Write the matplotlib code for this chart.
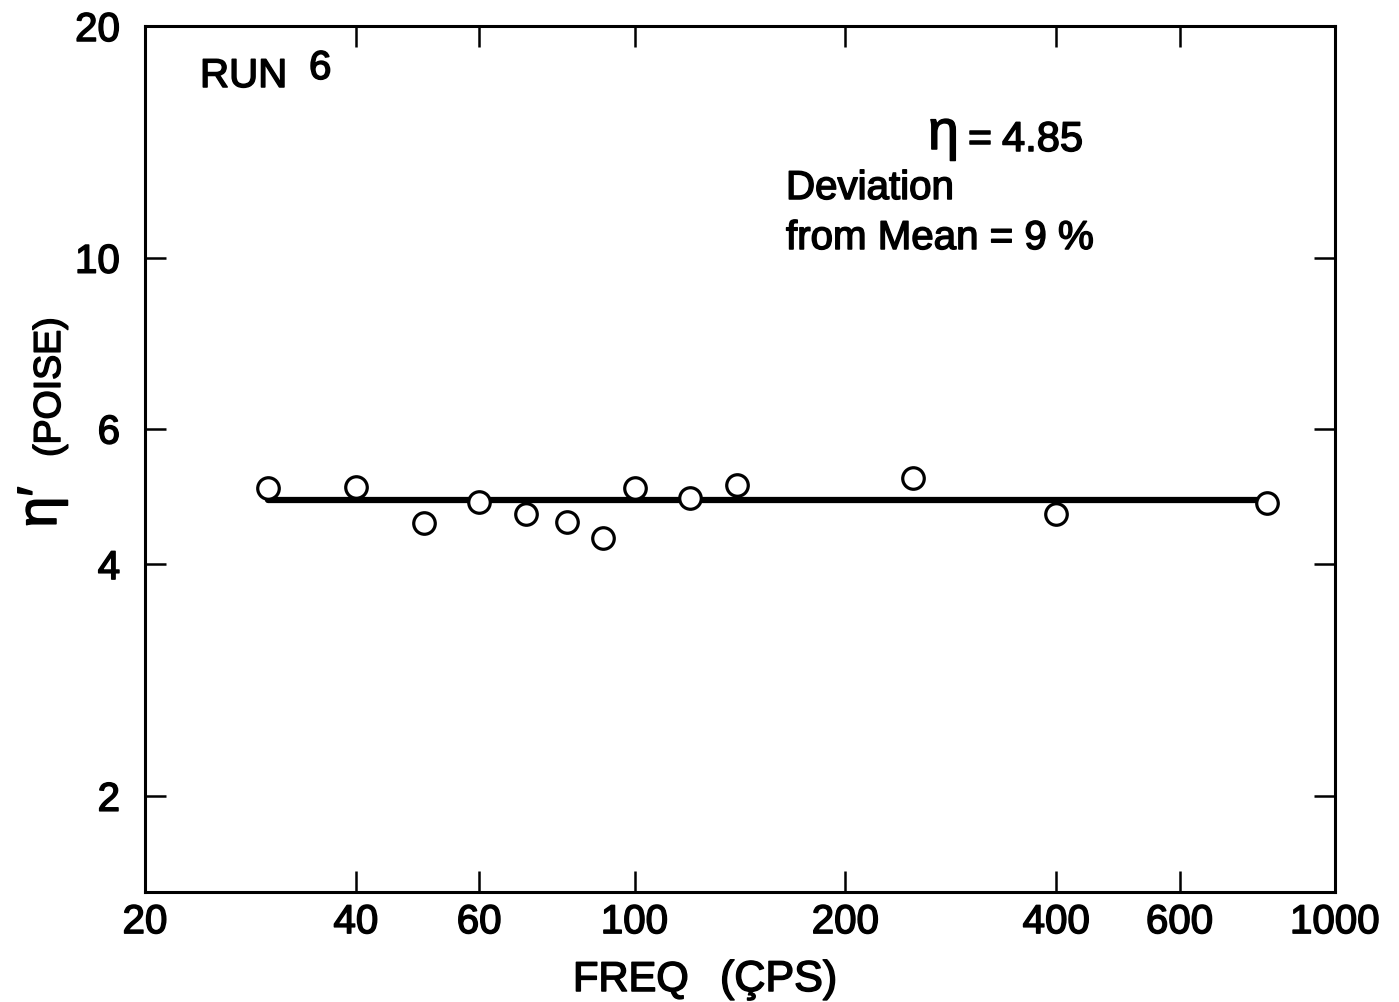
import numpy as np
import matplotlib
matplotlib.use("Agg")
import matplotlib.pyplot as plt
import matplotlib.patheffects as pe

# run 6: dynamic viscosity vs frequency
freq = [30, 40, 50, 60, 70, 80, 90, 100, 120, 140, 250, 400, 800]
eta_prime = [5.02, 5.03, 4.52, 4.81, 4.64, 4.53, 4.32, 5.02, 4.88, 5.06, 5.18, 4.64, 4.80]
eta_mean = 4.85
deviation_pct = 9

x_ticks = [20, 40, 60, 100, 200, 400, 600, 1000]
y_ticks = [2, 4, 6, 10, 20]

W, H = 1399, 1003
plt.rcParams['font.family'] = ['Liberation Sans', 'DejaVu Sans']
# slightly heavier strokes for the lettering
thick = [pe.withStroke(linewidth=1.1, foreground='black')]

fig = plt.figure(figsize=(W / 100, H / 100), dpi=100)
ax = fig.add_axes([145 / W, 1 - 893 / H, (1335 - 145) / W, (893 - 27) / H])

ax.set_xscale('log')
ax.set_yscale('log')
ax.set_xlim(20, 1000)
ax.set_ylim(1.5, 20)

# mean line across the measured range, circles on top
ax.plot([freq[0], freq[-1]], [eta_mean, eta_mean], color='black', lw=4.5,
        solid_capstyle='round', zorder=2)
ax.plot(freq, eta_prime, linestyle='none', marker='o', markersize=15.5,
        markerfacecolor='white', markeredgecolor='black', markeredgewidth=2.3,
        zorder=3)

ax.xaxis.set_major_locator(matplotlib.ticker.FixedLocator(x_ticks))
ax.yaxis.set_major_locator(matplotlib.ticker.FixedLocator(y_ticks))
ax.xaxis.set_minor_locator(matplotlib.ticker.NullLocator())
ax.yaxis.set_minor_locator(matplotlib.ticker.NullLocator())
ax.set_xticklabels([str(t) for t in x_ticks])
ax.set_yticklabels([str(t) for t in y_ticks])

ax.tick_params(which='major', direction='in', length=15, width=1.8,
               top=True, right=True, labelsize=29)
ax.tick_params(axis='x', pad=8)
ax.tick_params(axis='y', pad=18)
for lab in ax.get_xticklabels() + ax.get_yticklabels():
    lab.set_path_effects(thick)
for sp in ax.spines.values():
    sp.set_linewidth(2.2)


def put(x, y, s, size=29, **kw):
    fig.text(x / W, 1 - y / H, s, fontsize=size, va='baseline', ha='left',
             path_effects=thick, **kw)


put(200, 88, "RUN")
put(309, 80, "6")
put(928, 150, "η", size=40)
put(968, 152, "=")
put(1002, 152, "4.85", size=30)
put(786, 200, "Deviation")
put(786, 250, f"from Mean = {deviation_pct} %")

# axis titles
put(573, 992, "FREQ", size=30)
put(720, 992, "(ÇPS)", size=31)
fig.text(50 / W, 1 - 388 / H, "(POISE)", fontsize=27, rotation=90,
         ha='center', va='center', path_effects=thick)
fig.text(42 / W, 1 - 508 / H, "η′", fontsize=40, rotation=90,
         ha='center', va='center', path_effects=thick)

fig.savefig("out.png", dpi=100)
